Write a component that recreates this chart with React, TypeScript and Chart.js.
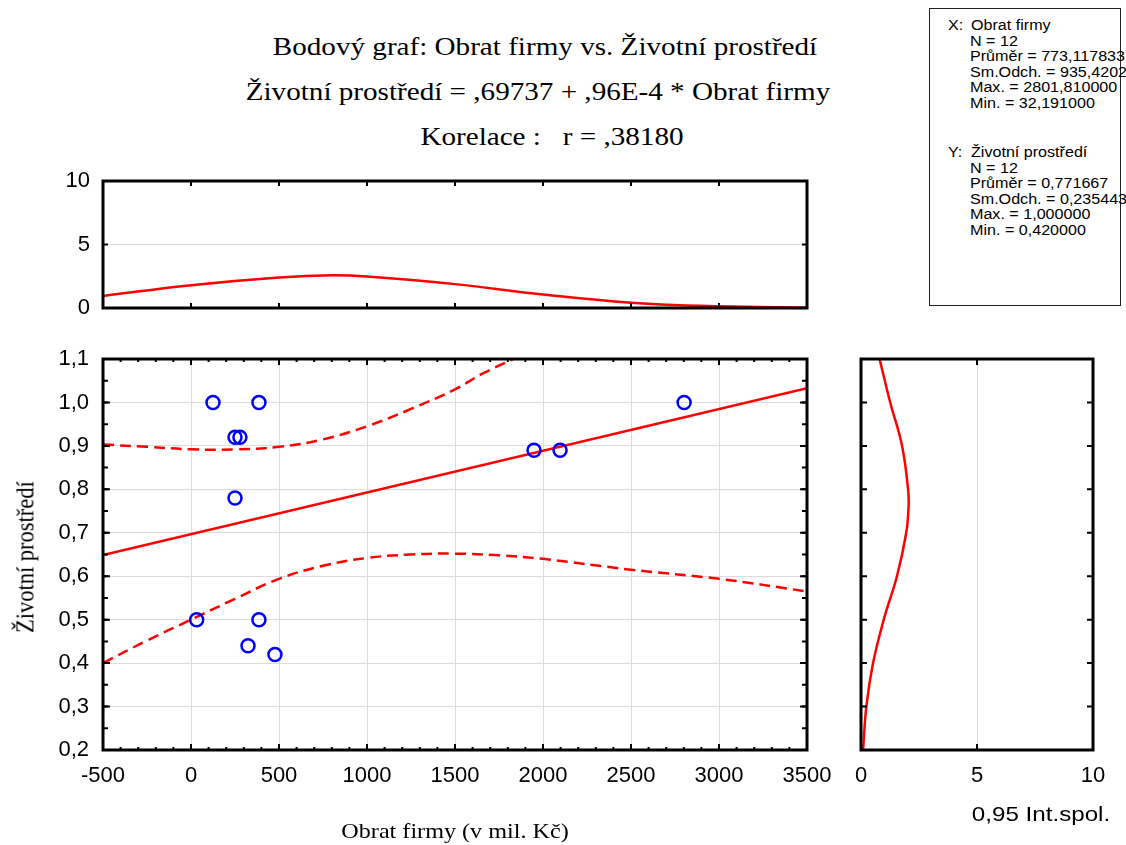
import React, { useEffect, useRef } from 'react';
import { Chart, registerables } from 'chart.js';

Chart.register(...registerables);

// ---------- data ----------
const firmTurnover = [125, 386, 250, 278, 250, 32.191, 386, 324, 477, 1949, 2097, 2801.81];
const environment = [1.0, 1.0, 0.92, 0.92, 0.78, 0.5, 0.5, 0.44, 0.42, 0.89, 0.89, 1.0];

const fitX = [-500, 3500];
const fitY = [0.649, 1.033];

const upperBandX = [-500, -250, 0, 250, 500, 750, 1000, 1250, 1500, 1650, 1830];
const upperBandY = [0.903, 0.898, 0.892, 0.892, 0.898, 0.915, 0.945, 0.985, 1.03, 1.065, 1.1];

const lowerBandX = [-500, -250, 0, 250, 500, 750, 1000, 1250, 1500, 1750, 2000, 2500, 3000, 3500];
const lowerBandY = [0.4, 0.452, 0.5, 0.548, 0.594, 0.624, 0.642, 0.65, 0.652, 0.648, 0.64, 0.615, 0.594, 0.565];

const xDensityX = [-500, 0, 500, 800, 1000, 1500, 2000, 2500, 3000, 3500];
const xDensityY = [0.95, 1.8, 2.41, 2.58, 2.48, 1.88, 1.06, 0.42, 0.13, 0.03];

const yDensityY = [1.1, 1.0, 0.9, 0.8, 0.76, 0.7, 0.6, 0.5, 0.4, 0.3, 0.2];
const yDensityX = [0.8, 1.26, 1.77, 2.03, 2.05, 1.95, 1.55, 0.98, 0.52, 0.23, 0.09];

const titleLines = [
  'Bodový graf: Obrat firmy vs. Životní prostředí',
  'Životní prostředí = ,69737 + ,96E-4 * Obrat firmy',
  'Korelace :   r = ,38180',
];
const xAxisTitle = 'Obrat firmy (v mil. Kč)';
const yAxisTitle = 'Životní prostředí';
const densityAxisTitle = '0,95 Int.spol.';

const statsXHead = 'Obrat firmy';
const statsX = ['N = 12', 'Průměr = 773,117833', 'Sm.Odch. = 935,420200', 'Max. = 2801,810000', 'Min. = 32,191000'];
const statsYHead = 'Životní prostředí';
const statsY = ['N = 12', 'Průměr = 0,771667', 'Sm.Odch. = 0,235443', 'Max. = 1,000000', 'Min. = 0,420000'];

// ---------- styling ----------
const SANS = "'Liberation Sans', Arial, Helvetica, sans-serif";
const SERIF = "'Liberation Serif', 'Times New Roman', Times, serif";
const tickFont = { family: SANS, size: 22 };
const RED = '#ff0000';
const BLUE = '#0000ff';
const GRID = '#dcdcdc';

type TickSpec = { axis: string; from: number; to: number; step: number; len: number; sides: string[] };

const frameTicks = {
  id: 'frameTicks',
  afterDatasetsDraw(chart: any, _args: any, opts: any) {
    const { ctx, chartArea: a } = chart;
    ctx.save();
    ctx.strokeStyle = '#000';
    ctx.lineWidth = 2;
    const specs: TickSpec[] = opts.ticks || [];
    for (const t of specs) {
      const sc = chart.scales[t.axis];
      const n = Math.round((t.to - t.from) / t.step);
      for (let i = 0; i <= n; i++) {
        const v = t.from + i * t.step;
        const p = sc.getPixelForValue(v);
        ctx.beginPath();
        if (t.axis === 'x') {
          if (t.sides.includes('top')) { ctx.moveTo(p, a.top); ctx.lineTo(p, a.top + t.len); }
          if (t.sides.includes('bottom')) { ctx.moveTo(p, a.bottom); ctx.lineTo(p, a.bottom - t.len); }
        } else {
          if (t.sides.includes('left')) { ctx.moveTo(a.left, p); ctx.lineTo(a.left + t.len, p); }
          if (t.sides.includes('right')) { ctx.moveTo(a.right, p); ctx.lineTo(a.right - t.len, p); }
        }
        ctx.stroke();
      }
    }
    ctx.lineWidth = 3;
    ctx.strokeRect(a.left, a.top, a.right - a.left, a.bottom - a.top);
    ctx.restore();
  },
};

const pts = (xs: number[], ys: number[]) => xs.map((x, i) => ({ x, y: ys[i] }));

function useChart(ref: React.RefObject<HTMLCanvasElement | null>, make: () => any) {
  useEffect(() => {
    if (!ref.current) return;
    const chart = new Chart(ref.current, make());
    return () => chart.destroy();
  }, []);
}

const baseOptions = {
  responsive: false,
  animation: false,
  events: [] as any[],
};

function MainChart() {
  const ref = useRef<HTMLCanvasElement>(null);
  useChart(ref, () => ({
    type: 'scatter',
    data: {
      datasets: [
        {
          data: pts(firmTurnover, environment),
          pointRadius: 6.5,
          pointBorderWidth: 2.5,
          pointBorderColor: BLUE,
          pointBackgroundColor: 'rgba(0,0,0,0)',
          borderColor: BLUE,
          backgroundColor: 'rgba(0,0,0,0)',
        },
        { data: pts(fitX, fitY), showLine: true, borderColor: RED, borderWidth: 2.5, pointRadius: 0 },
        { data: pts(upperBandX, upperBandY), showLine: true, borderColor: RED, borderWidth: 2.5, borderDash: [11, 6], tension: 0.4, pointRadius: 0 },
        { data: pts(lowerBandX, lowerBandY), showLine: true, borderColor: RED, borderWidth: 2.5, borderDash: [11, 6], tension: 0.4, pointRadius: 0 },
      ],
    },
    options: {
      ...baseOptions,
      layout: { padding: { left: 0, top: 29, right: 40, bottom: 0 } },
      plugins: {
        legend: { display: false },
        tooltip: { enabled: false },
        frameTicks: {
          ticks: [
            { axis: 'x', from: -500, to: 3500, step: 100, len: 3, sides: ['top', 'bottom'] },
            { axis: 'x', from: -500, to: 3500, step: 500, len: 6, sides: ['top', 'bottom'] },
            { axis: 'y', from: 0.2, to: 1.1, step: 0.05, len: 5, sides: ['left', 'right'] },
            { axis: 'y', from: 0.2, to: 1.1, step: 0.1, len: 7, sides: ['left', 'right'] },
          ],
        },
      },
      scales: {
        x: {
          type: 'linear', min: -500, max: 3500,
          ticks: { stepSize: 500, callback: (v: any) => String(v), font: tickFont, color: '#000', padding: 13, maxRotation: 0, autoSkip: false },
          grid: { color: GRID, drawTicks: false },
          border: { display: false },
          afterFit: (s: any) => { s.height = 95; },
        },
        y: {
          type: 'linear', min: 0.2, max: 1.1,
          ticks: { stepSize: 0.1, callback: (v: any) => Number(v).toFixed(1).replace('.', ','), font: tickFont, color: '#000', padding: 14, autoSkip: false },
          grid: { color: GRID, drawTicks: false },
          border: { display: false },
          afterFit: (s: any) => { s.width = 103; },
        },
      },
    },
    plugins: [frameTicks],
  }));
  return <canvas ref={ref} width={847} height={515} style={{ position: 'absolute', left: 0, top: 330 }} />;
}

function TopChart() {
  const ref = useRef<HTMLCanvasElement>(null);
  useChart(ref, () => ({
    type: 'scatter',
    data: {
      datasets: [
        { data: pts(xDensityX, xDensityY), showLine: true, borderColor: RED, borderWidth: 2.5, tension: 0.4, pointRadius: 0 },
      ],
    },
    options: {
      ...baseOptions,
      layout: { padding: { left: 0, top: 28, right: 33, bottom: 0 } },
      plugins: {
        legend: { display: false },
        tooltip: { enabled: false },
        frameTicks: {
          ticks: [
            { axis: 'x', from: -500, to: 3500, step: 500, len: 5, sides: ['top', 'bottom'] },
            { axis: 'y', from: 5, to: 5, step: 5, len: 5, sides: ['left', 'right'] },
          ],
        },
      },
      scales: {
        x: {
          type: 'linear', min: -500, max: 3500,
          ticks: { display: false, stepSize: 500 },
          grid: { display: false },
          border: { display: false },
          afterFit: (s: any) => { s.height = 28; },
        },
        y: {
          type: 'linear', min: 0, max: 10,
          ticks: { stepSize: 5, callback: (v: any) => String(v), font: tickFont, color: '#000', padding: 13 },
          grid: { color: (c: any) => (c.tick && c.tick.value === 5 ? GRID : 'rgba(0,0,0,0)'), drawTicks: false },
          border: { display: false },
          afterFit: (s: any) => { s.width = 103; },
        },
      },
    },
    plugins: [frameTicks],
  }));
  return <canvas ref={ref} width={840} height={183} style={{ position: 'absolute', left: 0, top: 153 }} />;
}

function RightChart() {
  const ref = useRef<HTMLCanvasElement>(null);
  useChart(ref, () => ({
    type: 'scatter',
    data: {
      datasets: [
        { data: pts(yDensityX, yDensityY), showLine: true, borderColor: RED, borderWidth: 2.5, tension: 0.4, pointRadius: 0 },
      ],
    },
    options: {
      ...baseOptions,
      layout: { padding: { left: 0, top: 29, right: 33, bottom: 0 } },
      plugins: {
        legend: { display: false },
        tooltip: { enabled: false },
        frameTicks: {
          ticks: [
            { axis: 'x', from: 5, to: 5, step: 5, len: 6, sides: ['top', 'bottom'] },
            { axis: 'y', from: 0.2, to: 1.1, step: 0.1, len: 6, sides: ['left', 'right'] },
          ],
        },
      },
      scales: {
        x: {
          type: 'linear', min: 0, max: 10,
          ticks: { stepSize: 5, callback: (v: any) => String(v), font: tickFont, color: '#000', padding: 13, maxRotation: 0, autoSkip: false },
          grid: { color: (c: any) => (c.tick && c.tick.value === 5 ? GRID : 'rgba(0,0,0,0)'), drawTicks: false },
          border: { display: false },
          afterFit: (s: any) => { s.height = 95; },
        },
        y: {
          type: 'linear', min: 0.2, max: 1.1,
          ticks: { display: false, stepSize: 0.1 },
          grid: { display: false },
          border: { display: false },
          afterFit: (s: any) => { s.width = 21; },
        },
      },
    },
    plugins: [frameTicks],
  }));
  return <canvas ref={ref} width={286} height={515} style={{ position: 'absolute', left: 840, top: 330 }} />;
}

const titleCenters = [
  { cx: 545, cy: 47 },
  { cx: 538, cy: 92 },
  { cx: 552, cy: 137 },
];

function StatLine({ text, x, cy }: { text: string; x: number; cy: number }) {
  return (
    <div
      style={{
        position: 'absolute', left: x, top: cy - 8, height: 16, lineHeight: '16px',
        fontFamily: SANS, fontSize: 14, whiteSpace: 'pre', color: '#000',
        transform: 'scaleX(1.15)', transformOrigin: '0 50%',
      }}
    >
      {text}
    </div>
  );
}

export default function App() {
  const step = 15.6;
  return (
    <div style={{ position: 'fixed', left: 0, top: 0, width: 1126, height: 845, overflow: 'hidden', background: '#fff' }}>
      {titleLines.map((t, i) => (
        <div
          key={i}
          style={{
            position: 'absolute', left: titleCenters[i].cx, top: titleCenters[i].cy - 15, height: 30, lineHeight: '30px',
            fontFamily: SERIF, fontSize: 25, whiteSpace: 'pre', color: '#000',
            transform: 'translateX(-50%) scaleX(1.165)',
          }}
        >
          {t}
        </div>
      ))}
      <TopChart />
      <MainChart />
      <RightChart />
      <div
        style={{
          position: 'absolute', left: 455, top: 831 - 13, height: 26, lineHeight: '26px',
          fontFamily: SERIF, fontSize: 21, whiteSpace: 'pre', color: '#000',
          transform: 'translateX(-50%) scaleX(1.15)',
        }}
      >
        {xAxisTitle}
      </div>
      <div style={{ position: 'absolute', left: 26, top: 557, width: 0, height: 0 }}>
        <div
          style={{
            position: 'absolute', left: 0, top: 0, lineHeight: '26px', height: 26,
            fontFamily: SERIF, fontSize: 22.5, whiteSpace: 'pre', color: '#000',
            transform: 'translate(-50%, -50%) rotate(-90deg) scaleY(1.12)',
          }}
        >
          {yAxisTitle}
        </div>
      </div>
      <div
        style={{
          position: 'absolute', left: 1041, top: 814 - 13, height: 26, lineHeight: '26px',
          fontFamily: SANS, fontSize: 21, whiteSpace: 'pre', color: '#000',
          transform: 'translateX(-50%) scaleX(1.15)',
        }}
      >
        {densityAxisTitle}
      </div>
      <div style={{ position: 'absolute', left: 929, top: 8, width: 190, height: 296, border: '1px solid #222' }} />
      <StatLine text="X:" x={948} cy={25} />
      <StatLine text={statsXHead} x={971} cy={25} />
      {statsX.map((t, i) => (
        <StatLine key={'x' + i} text={t} x={970} cy={25 + (i + 1) * step} />
      ))}
      <StatLine text="Y:" x={948} cy={152} />
      <StatLine text={statsYHead} x={971} cy={152} />
      {statsY.map((t, i) => (
        <StatLine key={'y' + i} text={t} x={970} cy={152 + (i + 1) * step} />
      ))}
    </div>
  );
}
